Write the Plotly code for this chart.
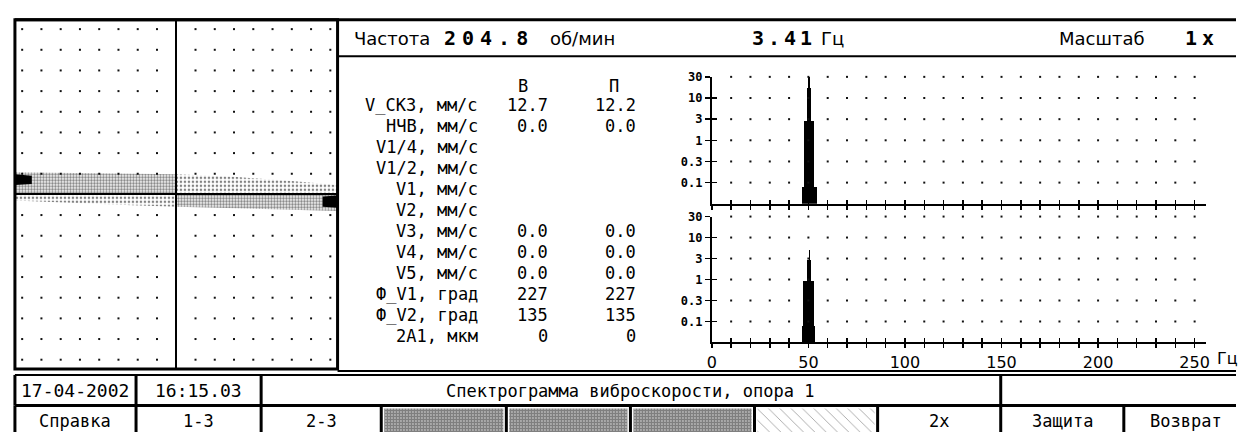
import plotly.graph_objects as go

W, H = 1240, 432

# ---------------- data ----------------
# left panel: time trace envelope (grid units), split at the centre column
osc_x_left = [-8.38, -6.0, -3.0, 0.0]
osc_x_right = [0.0, 3.0, 6.0, 8.38]
osc_upper_left = [1.07, 1.05, 1.0, 0.98]
osc_upper_right = [0.98, 0.85, 0.65, 0.45]
osc_lower_left = [-0.3, -0.4, -0.5, -0.6]
osc_lower_right = [-0.6, -0.68, -0.75, -0.8]
blob_left_x = [-8.38, -7.5, -7.5, -8.38, -8.38]
blob_left_y = [0.98, 0.9, 0.5, 0.45, 0.98]
blob_right_x = [7.6, 8.38, 8.38, 7.6, 7.6]
blob_right_y = [-0.1, -0.05, -0.65, -0.6, -0.1]

# spectra (Hz, mm/s)
spec_freq = [46.875, 47.5, 48.125, 48.75, 49.375, 50.0, 50.625, 51.25, 51.875, 52.5, 53.125, 53.75, 54.375]
spec_B = [0.08, 0.08, 2.8, 2.8, 17, 32, 32, 17, 2.8, 2.8, 0.08, 0.08, 0.08]
spec_P = [0.08, 0.9, 0.9, 0.9, 2.9, 2.9, 5.0, 2.9, 0.9, 0.9, 0.08, None, None]

x_ticks = list(range(0, 251, 10))
x_label_every = 50
y_ticks = [0.1, 0.316, 1, 3.16, 10, 31.6]
y_ticktext = ["0.1", "0.3", "1", "3", "10", "30"]

# header
hdr_freq_label = "Частота"
hdr_rpm = "204.8"
hdr_rpm_unit = "об/мин"
hdr_hz = "3.41"
hdr_hz_unit = "Гц"
hdr_scale_label = "Масштаб"
hdr_scale = "1x"

# table
col_heads = ["В", "П"]
row_labels = ["V_СКЗ, мм/с", "НЧВ, мм/с", "V1/4, мм/с", "V1/2, мм/с", "V1, мм/с", "V2, мм/с",
              "V3, мм/с", "V4, мм/с", "V5, мм/с", "Ф_V1, град", "Ф_V2, град", "2A1, мкм"]
vals_B = ["12.7", "0.0", "", "", "", "", "0.0", "0.0", "0.0", "227", "135", "0"]
vals_P = ["12.2", "0.0", "", "", "", "", "0.0", "0.0", "0.0", "227", "135", "0"]

# status bar
status_date = "17-04-2002"
status_time = "16:15.03"
status_title = "Спектрограмма виброскорости, опора 1"
buttons = ["Справка", "1-3", "2-3", "", "", "", "", "2x", "Защита", "Возврат"]
button_fill = ["", "", "", "dense", "dense", "dense", "sparse", "", "", ""]

# ---------------- layout geometry (pixels) ----------------
def dx(a, b):
    return [a / W, b / W]

def dy(top, bottom):
    return [1 - bottom / H, 1 - top / H]

SANS = "DejaVu Sans"
MONO = "DejaVu Sans Mono"

fig = go.Figure()

# left panel grid dots
gu = list(range(-8, 9))
gx = [i for i in gu for j in gu if i != 0 and j != 0]
gy = [j for i in gu for j in gu if i != 0 and j != 0]
fig.add_trace(go.Scatter(x=gx, y=gy, mode="markers", xaxis="x", yaxis="y",
                         marker=dict(symbol="square", size=2, color="#111", line=dict(width=0)),
                         hoverinfo="skip", cliponaxis=False))
pat_dense = dict(shape=".", size=3, solidity=0.5, fgcolor="black", bgcolor="rgba(255,255,255,0)")
pat_light = dict(shape=".", size=4, solidity=0.3, fgcolor="black", bgcolor="rgba(255,255,255,0)")
for bx, by, pat in ((osc_x_left, osc_upper_left, pat_dense),
                    (osc_x_right, osc_upper_right, pat_light),
                    (osc_x_left, osc_lower_left, pat_light),
                    (osc_x_right, osc_lower_right, pat_dense)):
    fig.add_trace(go.Scatter(x=bx, y=by, mode="lines", line=dict(width=0, color="black"),
                             fill="tozeroy", fillcolor="rgba(255,255,255,0)", fillpattern=pat,
                             xaxis="x", yaxis="y", hoverinfo="skip"))
for bx, by in ((blob_left_x, blob_left_y), (blob_right_x, blob_right_y)):
    fig.add_trace(go.Scatter(x=bx, y=by, mode="lines", line=dict(width=0), fill="toself",
                             fillcolor="black", xaxis="x", yaxis="y", hoverinfo="skip"))

# spectra
gfx = [f for f in x_ticks[1:] for v in y_ticks]
gfy = [v for f in x_ticks[1:] for v in y_ticks]
for xa, ya, vals in (("x2", "y2", spec_B), ("x3", "y3", spec_P)):
    fig.add_trace(go.Scatter(x=gfx, y=gfy, mode="markers", xaxis=xa, yaxis=ya,
                             marker=dict(symbol="square", size=2, color="#111", line=dict(width=0)),
                             hoverinfo="skip", cliponaxis=False))
    fig.add_trace(go.Bar(x=spec_freq, y=vals, width=0.625, xaxis=xa, yaxis=ya,
                         marker=dict(color="black", line=dict(width=0))))
for xa, ya in (("x4", "y4"), ("x5", "y5")):
    fig.add_trace(go.Scatter(x=[None], y=[None], xaxis=xa, yaxis=ya, mode="markers"))

# status bar pattern cells (page axis)
dividers = [10, 132, 258, 379, 505, 630, 755, 879, 1003, 1127, 1252]
for k, kind in enumerate(button_fill):
    if not kind:
        continue
    x0, x1 = dividers[k] + 3, dividers[k + 1] - 3
    y0, y1 = 408, 432
    if kind == "dense":
        pat = dict(shape=".", size=3, solidity=0.8, fgcolor="black", bgcolor="white")
    else:
        pat = dict(shape="\\", size=8, solidity=0.1, fgcolor="#333", bgcolor="white")
    fig.add_trace(go.Scatter(x=[x0, x1, x1, x0, x0], y=[y0, y0, y1, y1, y0], mode="lines",
                             line=dict(width=0), fill="toself", fillcolor="white",
                             fillpattern=pat, xaxis="x6", yaxis="y6", hoverinfo="skip"))

blank = dict(showgrid=False, zeroline=False, showticklabels=False, ticks="", showline=False)

xt_text = [str(v) if v % x_label_every == 0 else "" for v in x_ticks]
spec_x_common = dict(range=[0, 256], tickvals=x_ticks, ticks="outside", ticklen=4, tickwidth=1.5,
                     tickcolor="black", showline=True, linewidth=2, linecolor="black",
                     showgrid=False, zeroline=False)
spec_y_common = dict(type="log", range=[-1.5, 1.5], tickvals=y_ticks, ticktext=y_ticktext,
                     ticks="outside", ticklen=5, tickwidth=1.5, tickcolor="black",
                     showline=True, linewidth=2, linecolor="black", showgrid=False, zeroline=False,
                     tickfont=dict(family=MONO, size=12, color="black", weight="bold"))
over_x = dict(range=[0, 256], tickvals=x_ticks, ticks="inside", ticklen=4, tickwidth=1.5,
              tickcolor="black", showticklabels=False, showline=False, showgrid=False, zeroline=False)
over_y = dict(type="log", range=[-1.5, 1.5], tickvals=y_ticks, ticks="inside", ticklen=5,
              tickwidth=1.5, tickcolor="black", showticklabels=False, showline=False,
              showgrid=False, zeroline=False)

fig.update_layout(
    width=W, height=H, margin=dict(l=0, r=0, t=0, b=0),
    paper_bgcolor="white", plot_bgcolor="rgba(0,0,0,0)", showlegend=False, bargap=0,
    hovermode=False,
    xaxis=dict(domain=dx(10, 335), range=[-8.376, 8.376], anchor="y", showgrid=False,
               showticklabels=False, ticks="", showline=False, zeroline=True,
               zerolinewidth=2, zerolinecolor="black"),
    yaxis=dict(domain=dy(13, 368), range=[-8.452, 8.452], anchor="x", showgrid=False,
               showticklabels=False, ticks="", showline=False, zeroline=True,
               zerolinewidth=2, zerolinecolor="black"),
    xaxis2=dict(domain=dx(712, 1210), anchor="y2", showticklabels=False, **spec_x_common),
    yaxis2=dict(domain=dy(71, 200), anchor="x2", **spec_y_common),
    xaxis3=dict(domain=dx(712, 1210), anchor="y3", ticktext=xt_text, showticklabels=True,
                tickfont=dict(family=SANS, size=16, color="black"), **spec_x_common),
    yaxis3=dict(domain=dy(213, 341), anchor="x3", **spec_y_common),
    xaxis4=dict(overlaying="x2", anchor="y4", **over_x),
    yaxis4=dict(overlaying="y2", anchor="x4", **over_y),
    xaxis5=dict(overlaying="x3", anchor="y5", **over_x),
    yaxis5=dict(overlaying="y3", anchor="x5", **over_y),
    xaxis6=dict(domain=[0, 1], range=[0, W], anchor="y6", visible=False, **blank),
    yaxis6=dict(domain=[0, 1], range=[H, 0], anchor="x6", visible=False, **blank),
)

# frame lines (page pixel coordinates)
shapes = []
def hline(y, x0, x1, w):
    shapes.append(dict(type="line", xref="x6", yref="y6", x0=x0, x1=x1, y0=y, y1=y,
                       line=dict(color="black", width=w), layer="above"))
def vline(x, y0, y1, w):
    shapes.append(dict(type="line", xref="x6", yref="y6", x0=x, x1=x, y0=y0, y1=y1,
                       line=dict(color="black", width=w), layer="above"))

hline(13, 10, W, 3)
shapes.append(dict(type="rect", xref="x6", yref="y6", x0=10, x1=335, y0=13, y1=368,
                   line=dict(color="black", width=3), layer="above"))
hline(50, 335, W, 2)
hline(370, 335, W, 2)
hline(374, 10, W, 2)
hline(405, 10, W, 3)
for x in [10, 132, 258, 1003]:
    vline(x, 374, 405, 3)
for x in dividers[:-1]:
    vline(x, 405, 432, 3)

ann = []
def text(s, x, y, size, anchor="left", family=SANS, bold=False):
    ann.append(dict(text=s, x=x, y=y, xref="x6", yref="y6", showarrow=False, xanchor=anchor,
                    yanchor="middle",
                    font=dict(family=family, size=size, color="black",
                              weight="bold" if bold else "normal")))

def spaced(s, px):
    return f'<span style="letter-spacing:{px}px">{s}</span>'

# header
text(hdr_freq_label, 350, 32, 18)
text(spaced(hdr_rpm, 6), 440, 32, 20, family=MONO, bold=True)
text(hdr_rpm_unit, 547, 32, 18)
text(spaced(hdr_hz, 4), 750, 32, 20, family=MONO, bold=True)
text(hdr_hz_unit, 820, 32, 18)
text(hdr_scale_label, 1060, 32, 18)
text(spaced(hdr_scale, 5), 1187, 32, 20, family=MONO, bold=True)

# table
text(col_heads[0], 522, 80, 17, "center", MONO)
text(col_heads[1], 613, 80, 17, "center", MONO)
row_y0, row_dy = 100, 21.3
for i, (lab, vb, vp) in enumerate(zip(row_labels, vals_B, vals_P)):
    y = row_y0 + i * row_dy
    text(lab, 478, y, 17, "right", MONO)
    if vb:
        text(vb, 549, y, 17, "right", MONO)
    if vp:
        text(vp, 638, y, 17, "right", MONO)

# axis unit
text(hdr_hz_unit, 1219, 357, 16)

# status bar
text(status_date, 71, 390, 18, "center", MONO)
text(status_time, 195, 390, 18, "center", MONO)
text(status_title, 630, 390, 17, "center", MONO)
for k, lab in enumerate(buttons):
    if lab:
        text(lab, (dividers[k] + dividers[k + 1]) / 2, 421, 17, "center", MONO)

fig.update_layout(shapes=shapes, annotations=ann)
fig.write_html("out.html", config={"displayModeBar": False, "staticPlot": True},
               post_script="document.body.style.margin='0px';")
